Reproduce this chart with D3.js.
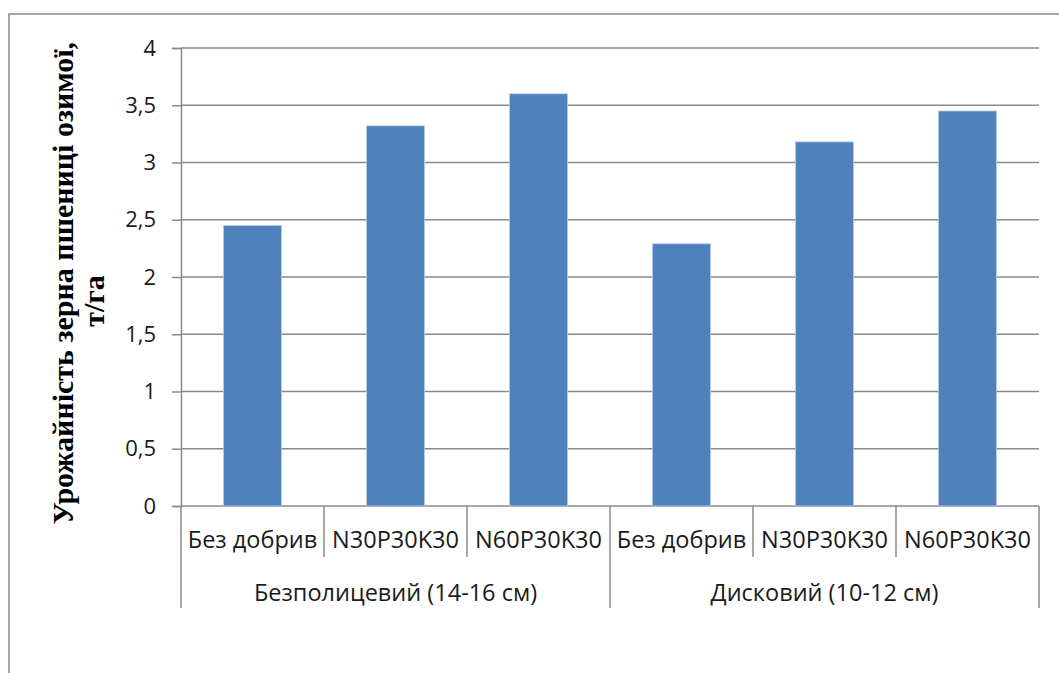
<!DOCTYPE html>
<html>
<head>
<meta charset="utf-8">
<script src="https://cdn.jsdelivr.net/npm/d3@7"></script>
<style>
  html, body { margin: 0; padding: 0; background: #fff; }
  svg { display: block; }
</style>
</head>
<body>
<svg id="chart" width="1059" height="673"></svg>
<script>
// Treatments (inner category level) and tillage systems (outer level)
const treatments = ["Без добрив", "N30P30K30", "N60P30K30", "Без добрив", "N30P30K30", "N60P30K30"];
const tillage = ["Безполицевий (14-16 см)", "Дисковий (10-12 см)"];
const yieldValues = [2.45, 3.32, 3.60, 2.29, 3.18, 3.45];
const yTicks = [0, 0.5, 1, 1.5, 2, 2.5, 3, 3.5, 4];
const yTitleLines = ["Урожайність зерна пшениці озимої,", "т/га"];

const svg = d3.select("#chart");
const plot = { left: 181, right: 1039, top: 48, bottom: 506 };
const gridColor = "#8a8a8a";
const labelFont = "'Open Sans', 'Noto Sans', sans-serif";

// Outer chart frame (partly cropped on the right and bottom)
svg.append("path")
  .attr("d", `M9,673 V14 H1059`)
  .attr("fill", "none")
  .attr("stroke", gridColor)
  .attr("stroke-width", 1.5);

const y = d3.scaleLinear().domain([0, 4]).range([plot.bottom, plot.top]);
const x = d3.scaleBand()
  .domain(d3.range(treatments.length))
  .range([plot.left, plot.right])
  .paddingInner(0.594)
  .paddingOuter(0.297);

// Horizontal gridlines
svg.append("g")
  .selectAll("line")
  .data(yTicks)
  .join("line")
  .attr("x1", plot.left)
  .attr("x2", plot.right)
  .attr("y1", d => y(d))
  .attr("y2", d => y(d))
  .attr("stroke", gridColor)
  .attr("stroke-width", 1.5);

// Value axis with tick marks and comma-decimal labels
const yAxis = svg.append("g")
  .attr("transform", `translate(${plot.left},0)`)
  .call(d3.axisLeft(y).tickValues(yTicks).tickSize(9).tickPadding(16)
    .tickFormat(d => String(d).replace(".", ",")));
yAxis.select(".domain").attr("stroke", gridColor).attr("stroke-width", 1.5);
yAxis.selectAll(".tick line").attr("stroke", gridColor).attr("stroke-width", 1.5);
yAxis.selectAll(".tick text")
  .attr("fill", "#1a1a1a")
  .style("font-family", labelFont)
  .style("font-size", "22px");

// Bars
svg.append("g")
  .selectAll("rect")
  .data(yieldValues)
  .join("rect")
  .attr("x", (d, i) => x(i))
  .attr("y", d => y(d))
  .attr("width", x.bandwidth())
  .attr("height", d => y(0) - y(d))
  .attr("fill", "#4f81bd")
  .attr("stroke", "#b9cde6")
  .attr("stroke-width", 0.8);

// Category axis: separators between treatments and tillage groups
const step = x.step();
const sep = svg.append("g");
d3.range(treatments.length + 1).forEach(i => {
  const xx = plot.left + i * step;
  const isGroupEdge = i % 3 === 0;
  sep.append("line")
    .attr("x1", xx).attr("x2", xx)
    .attr("y1", plot.bottom)
    .attr("y2", isGroupEdge ? 608 : 557)
    .attr("stroke", gridColor)
    .attr("stroke-width", 1.5);
});

// Treatment labels
svg.append("g")
  .selectAll("text")
  .data(treatments)
  .join("text")
  .attr("x", (d, i) => x(i) + x.bandwidth() / 2)
  .attr("y", 548)
  .attr("text-anchor", "middle")
  .attr("fill", "#1a1a1a")
  .style("font-family", labelFont)
  .style("font-size", "23.5px")
  .text(d => d);

// Tillage group labels
svg.append("g")
  .selectAll("text")
  .data(tillage)
  .join("text")
  .attr("x", (d, i) => plot.left + (i * 3 + 1.5) * step)
  .attr("y", 601)
  .attr("text-anchor", "middle")
  .attr("fill", "#1a1a1a")
  .style("font-family", labelFont)
  .style("font-size", "23.5px")
  .text(d => d);

// Rotated value-axis title, two lines
const titleCenters = [[73, 283], [104, 301]];
svg.append("g")
  .selectAll("text")
  .data(yTitleLines)
  .join("text")
  .attr("transform", (d, i) => `translate(${titleCenters[i][0]},${titleCenters[i][1]}) rotate(-90)`)
  .attr("text-anchor", "middle")
  .attr("fill", "#000")
  .style("font-family", "'Liberation Serif', 'Times New Roman', serif")
  .style("font-weight", "bold")
  .style("font-size", "30px")
  .text(d => d);
</script>
</body>
</html>
